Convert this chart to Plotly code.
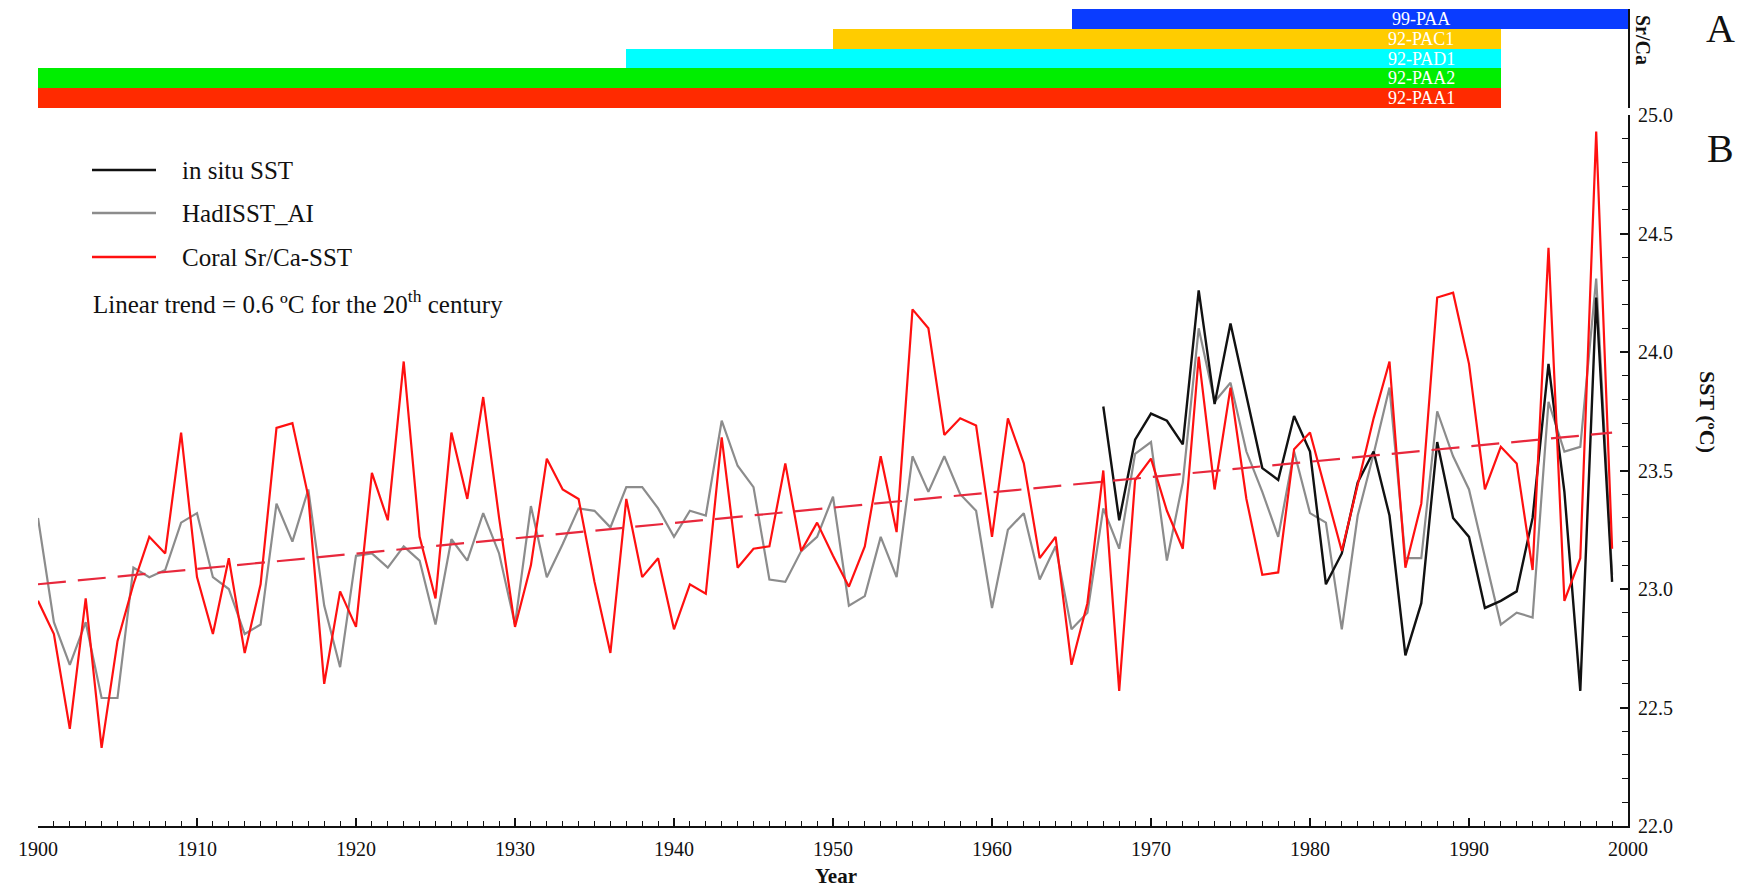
import plotly.graph_objects as go

# ---- data -------------------------------------------------------------
years = list(range(1900, 2000))

coral_sst = [
    22.95, 22.81, 22.41, 22.96, 22.33, 22.78, 23.02, 23.22, 23.15, 23.66,
    23.05, 22.81, 23.13, 22.73, 23.02, 23.68, 23.70, 23.39, 22.60, 22.99,
    22.84, 23.49, 23.29, 23.96, 23.22, 22.96, 23.66, 23.38, 23.81, 23.30,
    22.84, 23.10, 23.55, 23.42, 23.38, 23.03, 22.73, 23.38, 23.05, 23.13,
    22.83, 23.02, 22.98, 23.64, 23.09, 23.17, 23.18, 23.53, 23.16, 23.28,
    23.14, 23.01, 23.18, 23.56, 23.24, 24.18, 24.10, 23.65, 23.72, 23.69,
    23.22, 23.72, 23.53, 23.13, 23.22, 22.68, 22.94, 23.50, 22.57, 23.46,
    23.55, 23.33, 23.17, 23.98, 23.42, 23.85, 23.38, 23.06, 23.07, 23.59,
    23.66, 23.41, 23.16, 23.44, 23.72, 23.96, 23.09, 23.36, 24.23, 24.25,
    23.95, 23.42, 23.60, 23.53, 23.08, 24.44, 22.95, 23.13, 24.93, 23.17,
]

hadisst = [
    23.30, 22.86, 22.68, 22.86, 22.54, 22.54, 23.09, 23.05, 23.08, 23.28,
    23.32, 23.05, 23.00, 22.81, 22.85, 23.36, 23.20, 23.42, 22.93, 22.67,
    23.14, 23.15, 23.09, 23.18, 23.12, 22.85, 23.21, 23.12, 23.32, 23.15,
    22.85, 23.35, 23.05, 23.19, 23.34, 23.33, 23.26, 23.43, 23.43, 23.34,
    23.22, 23.33, 23.31, 23.71, 23.52, 23.43, 23.04, 23.03, 23.16, 23.22,
    23.39, 22.93, 22.97, 23.22, 23.05, 23.56, 23.41, 23.56, 23.40, 23.33,
    22.92, 23.25, 23.32, 23.04, 23.18, 22.83, 22.90, 23.34, 23.17, 23.57,
    23.62, 23.12, 23.45, 24.10, 23.79, 23.87, 23.58, 23.41, 23.22, 23.58,
    23.32, 23.28, 22.83, 23.31, 23.57, 23.85, 23.13, 23.13, 23.75, 23.56,
    23.42, 23.13, 22.85, 22.90, 22.88, 23.79, 23.58, 23.60, 24.31, 23.06,
]

insitu_years = list(range(1967, 2000))
insitu_sst = [
    23.77, 23.29, 23.63, 23.74, 23.71, 23.61, 24.26, 23.78, 24.12, 23.81,
    23.51, 23.46, 23.73, 23.58, 23.02, 23.15, 23.45, 23.58, 23.31, 22.72,
    22.94, 23.62, 23.30, 23.22, 22.92, 22.95, 22.99, 23.30, 23.95, 23.41,
    22.57, 24.23, 23.03,
]

trend_years = [1900, 1999]
trend_sst = [23.02, 23.66]

# Sr/Ca record coverage (bottom row first)
core_names = ["92-PAA1", "92-PAA2", "92-PAD1", "92-PAC1", "99-PAA"]
core_start = [1900, 1900, 1937, 1950, 1965]
core_end = [1992, 1992, 1992, 1992, 2000]
core_colors = ["#ff2a00", "#00ee00", "#00ffff", "#ffcc00", "#0a3cff"]

y_ticks = [22.0, 22.5, 23.0, 23.5, 24.0, 24.5, 25.0]
x_ticks = list(range(1900, 2001, 10))

# ---- geometry ---------------------------------------------------------
W, H = 1747, 891
ML, MR, MT, MB = 38, 119, 9, 65
PW, PH = W - ML - MR, H - MT - MB


def px(xp):
    return (xp - ML) / PW


def py(yp):
    return (H - MB - yp) / PH


SERIF = "Liberation Serif, Times New Roman, serif"
INK = "#111111"

fig = go.Figure()

# ---- panel A: record coverage bars -----------------------------------
fig.add_trace(go.Bar(
    orientation="h",
    y=list(range(len(core_names))),
    x=[e - s for s, e in zip(core_start, core_end)],
    base=core_start,
    marker=dict(color=core_colors, line=dict(width=0)),
    width=1.0,
    xaxis="x", yaxis="y2",
    showlegend=False, hoverinfo="skip",
))

# ---- panel B: SST series ---------------------------------------------
fig.add_trace(go.Scatter(
    x=years, y=hadisst, mode="lines", name="HadISST_AI",
    line=dict(color="#8c8c8c", width=2.2), showlegend=False,
))
fig.add_trace(go.Scatter(
    x=insitu_years, y=insitu_sst, mode="lines", name="in situ SST",
    line=dict(color=INK, width=2.4), showlegend=False,
))
fig.add_trace(go.Scatter(
    x=years, y=coral_sst, mode="lines", name="Coral Sr/Ca-SST",
    line=dict(color="#ff1010", width=2.2), showlegend=False,
))
fig.add_trace(go.Scatter(
    x=trend_years, y=trend_sst, mode="lines", name="Linear trend",
    line=dict(color="#e8283c", width=2.2, dash="28px,12px"), showlegend=False,
))

annotations = []
shapes = []

# bar labels
for i, name in enumerate(core_names):
    annotations.append(dict(
        x=1987, y=i, xref="x", yref="y2", text=name, showarrow=False,
        font=dict(family=SERIF, size=18, color="white"),
        xanchor="center", yanchor="middle",
    ))

# legend block
legend_rows = [
    ("in situ SST", INK, 170),
    ("HadISST_AI", "#8c8c8c", 213),
    ("Coral Sr/Ca-SST", "#ff1010", 257),
]
for label, color, yp in legend_rows:
    shapes.append(dict(
        type="line", xref="paper", yref="paper",
        x0=px(92), x1=px(156), y0=py(yp), y1=py(yp),
        line=dict(color=color, width=2.4),
    ))
    annotations.append(dict(
        x=px(180), y=py(yp), xref="paper", yref="paper", text=label,
        showarrow=False, xanchor="left", yanchor="middle",
        font=dict(family=SERIF, size=25, color=INK),
    ))
annotations.append(dict(
    x=px(91), y=py(302), xref="paper", yref="paper",
    text="Linear trend = 0.6 ºC for the 20<sup>th</sup> century",
    showarrow=False, xanchor="left", yanchor="middle",
    font=dict(family=SERIF, size=25, color=INK),
))

# axis titles and panel letters
annotations += [
    dict(x=px(836), y=py(876), xref="paper", yref="paper", text="<b>Year</b>",
         showarrow=False, xanchor="center", yanchor="middle",
         font=dict(family=SERIF, size=21, color=INK)),
    dict(x=px(1708), y=py(412), xref="paper", yref="paper", text="<b>SST (ºC)</b>",
         showarrow=False, textangle=90, xanchor="center", yanchor="middle",
         font=dict(family=SERIF, size=22, color=INK)),
    dict(x=px(1643), y=py(40), xref="paper", yref="paper", text="<b>Sr/Ca</b>",
         showarrow=False, textangle=90, xanchor="center", yanchor="middle",
         font=dict(family=SERIF, size=20, color=INK)),
    dict(x=px(1720), y=py(28), xref="paper", yref="paper", text="A",
         showarrow=False, xanchor="center", yanchor="middle",
         font=dict(family=SERIF, size=40, color=INK)),
    dict(x=px(1720), y=py(148), xref="paper", yref="paper", text="B",
         showarrow=False, xanchor="center", yanchor="middle",
         font=dict(family=SERIF, size=40, color=INK)),
]

fig.update_layout(
    template="none",
    width=W, height=H,
    margin=dict(l=ML, r=MR, t=MT, b=MB, pad=0, autoexpand=False),
    paper_bgcolor="white", plot_bgcolor="white",
    bargap=0,
    showlegend=False,
    xaxis=dict(
        range=[1900, 2000], showgrid=False, zeroline=False, automargin=False,
        showline=True, linecolor=INK, linewidth=2,
        ticks="inside", tickvals=x_ticks, ticklen=8, tickwidth=1.5,
        tickcolor=INK, ticklabelstandoff=4,
        minor=dict(dtick=1, tick0=1900, ticks="inside", ticklen=5,
                   tickwidth=1.2, tickcolor=INK, showgrid=False),
        tickfont=dict(family=SERIF, size=20, color=INK),
        anchor="y",
    ),
    yaxis=dict(
        domain=[0, py(115)], range=[22, 25], side="right", anchor="x",
        showgrid=False, zeroline=False, automargin=False,
        showline=True, linecolor=INK, linewidth=2,
        ticks="inside", tickvals=y_ticks, tickformat=".1f",
        ticklen=8, tickwidth=1.5, tickcolor=INK,
        minor=dict(dtick=0.1, tick0=22, ticks="inside", ticklen=6,
                   tickwidth=1.2, tickcolor=INK, showgrid=False),
        tickfont=dict(family=SERIF, size=20, color=INK),
        ticklabelstandoff=4,
    ),
    yaxis2=dict(
        domain=[py(108), 1], range=[-0.5, 4.5], side="right", anchor="x",
        showgrid=False, zeroline=False, showticklabels=False, ticks="",
        automargin=False,
        showline=True, linecolor=INK, linewidth=2,
    ),
    annotations=annotations,
    shapes=shapes,
)

fig.write_html("out.html")
